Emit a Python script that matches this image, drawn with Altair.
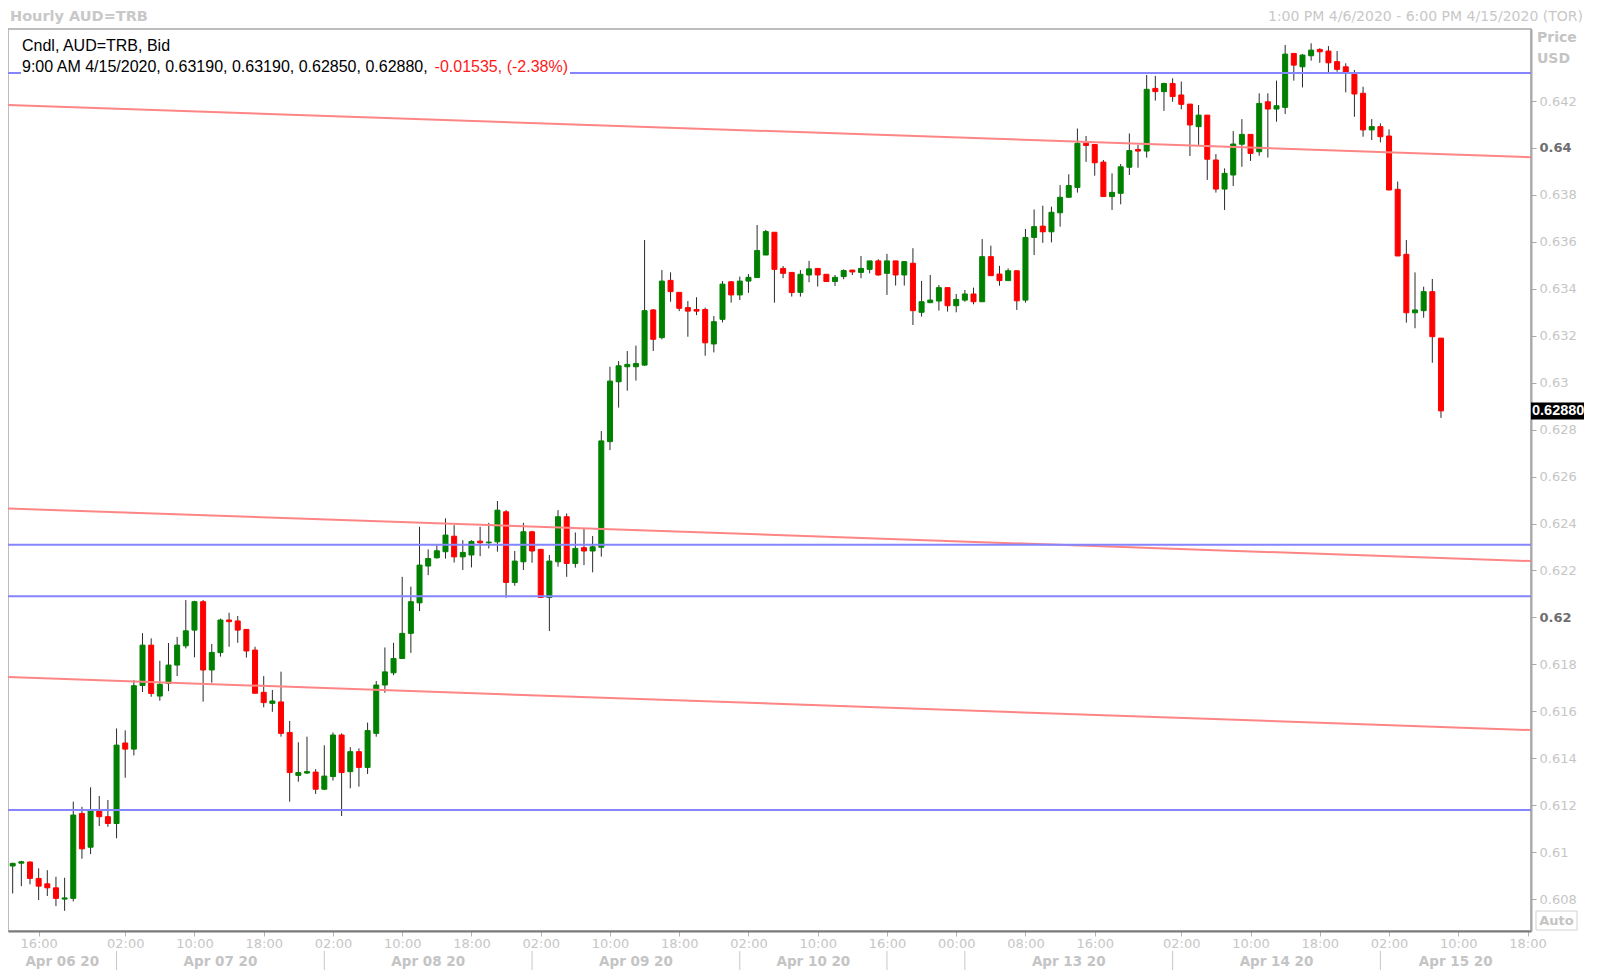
import altair as alt
import pandas as pd

# ---------------- data ----------------
opens = [0.60941, 0.60953, 0.60958, 0.60888, 0.60865, 0.60848, 0.60800, 0.60803, 0.61165, 0.61021,
         0.61176, 0.61151, 0.61122, 0.61465, 0.61439, 0.61710, 0.61882, 0.61665, 0.61719, 0.61797,
         0.61879, 0.61946, 0.62067, 0.61776, 0.61850, 0.61989, 0.61985, 0.61949, 0.61861, 0.61681,
         0.61634, 0.61640, 0.61510, 0.61327, 0.61337, 0.61341, 0.61268, 0.61322, 0.61499, 0.61343,
         0.61428, 0.61361, 0.61506, 0.61712, 0.61764, 0.61825, 0.61932, 0.62062, 0.62219, 0.62254,
         0.62280, 0.62346, 0.62258, 0.62266, 0.62325, 0.62318, 0.62322, 0.62450, 0.62149, 0.62237,
         0.62365, 0.62290, 0.62085, 0.62237, 0.62429, 0.62230, 0.62297, 0.62283, 0.62299, 0.62749,
         0.63004, 0.63068, 0.63068, 0.63075, 0.63310, 0.63192, 0.63436, 0.63385, 0.63320, 0.63312,
         0.63312, 0.63165, 0.63270, 0.63430, 0.63374, 0.63433, 0.63448, 0.63544, 0.63641, 0.63487,
         0.63470, 0.63385, 0.63459, 0.63487, 0.63462, 0.63431, 0.63452, 0.63480, 0.63470, 0.63483,
         0.63519, 0.63466, 0.63519, 0.63459, 0.63509, 0.63300, 0.63341, 0.63348, 0.63405, 0.63328,
         0.63352, 0.63378, 0.63345, 0.63537, 0.63463, 0.63435, 0.63477, 0.63352, 0.63619, 0.63667,
         0.63643, 0.63724, 0.63790, 0.63832, 0.64020, 0.64015, 0.63940, 0.63793, 0.63807, 0.63918,
         0.63994, 0.63987, 0.64254, 0.64240, 0.64275, 0.64226, 0.64187, 0.64091, 0.64140, 0.63949,
         0.63825, 0.63885, 0.64016, 0.64058, 0.63984, 0.64197, 0.64166, 0.64173, 0.64403, 0.64346,
         0.64393, 0.64420, 0.64413, 0.64368, 0.64346, 0.64314, 0.64233, 0.64077, 0.64091, 0.64051,
         0.63824, 0.63547, 0.63298, 0.63307, 0.63388, 0.63190]

highs = [0.60955, 0.60963, 0.60960, 0.60931, 0.60923, 0.60895, 0.60891, 0.61215, 0.61193, 0.61276,
         0.61239, 0.61222, 0.61527, 0.61519, 0.61733, 0.61933, 0.61911, 0.61815, 0.61891, 0.61917,
         0.62074, 0.62071, 0.62074, 0.61887, 0.61995, 0.62020, 0.62006, 0.61950, 0.61875, 0.61750,
         0.61691, 0.61769, 0.61559, 0.61468, 0.61492, 0.61354, 0.61455, 0.61510, 0.61506, 0.61447,
         0.61442, 0.61552, 0.61729, 0.61872, 0.61892, 0.62173, 0.62131, 0.62386, 0.62290, 0.62308,
         0.62422, 0.62393, 0.62329, 0.62329, 0.62386, 0.62403, 0.62496, 0.62457, 0.62283, 0.62403,
         0.62369, 0.62292, 0.62266, 0.62457, 0.62443, 0.62362, 0.62377, 0.62347, 0.62794, 0.63068,
         0.63092, 0.63135, 0.63158, 0.63608, 0.63314, 0.63480, 0.63470, 0.63385, 0.63348, 0.63364,
         0.63320, 0.63284, 0.63433, 0.63433, 0.63452, 0.63463, 0.63672, 0.63651, 0.63641, 0.63497,
         0.63470, 0.63480, 0.63519, 0.63487, 0.63462, 0.63459, 0.63483, 0.63480, 0.63540, 0.63519,
         0.63526, 0.63549, 0.63519, 0.63516, 0.63573, 0.63434, 0.63459, 0.63416, 0.63405, 0.63378,
         0.63395, 0.63405, 0.63612, 0.63584, 0.63498, 0.63487, 0.63477, 0.63655, 0.63738, 0.63754,
         0.63750, 0.63842, 0.63888, 0.64083, 0.64051, 0.64015, 0.63949, 0.63892, 0.63932, 0.64062,
         0.64013, 0.64311, 0.64307, 0.64278, 0.64297, 0.64283, 0.64187, 0.64183, 0.64140, 0.63974,
         0.63913, 0.64072, 0.64123, 0.64058, 0.64233, 0.64233, 0.64287, 0.64439, 0.64403, 0.64400,
         0.64446, 0.64425, 0.64434, 0.64413, 0.64361, 0.64332, 0.64261, 0.64123, 0.64105, 0.64079,
         0.63857, 0.63608, 0.63470, 0.63409, 0.63442, 0.63190]

lows = [0.60824, 0.60855, 0.60863, 0.60796, 0.60813, 0.60770, 0.60750, 0.60790, 0.60972, 0.60992,
        0.61111, 0.61108, 0.61059, 0.61317, 0.61412, 0.61682, 0.61662, 0.61645, 0.61686, 0.61750,
        0.61868, 0.61830, 0.61641, 0.61722, 0.61833, 0.61875, 0.61892, 0.61829, 0.61677, 0.61617,
        0.61598, 0.61492, 0.61215, 0.61300, 0.61333, 0.61248, 0.61265, 0.61305, 0.61154, 0.61272,
        0.61279, 0.61333, 0.61492, 0.61679, 0.61754, 0.61825, 0.61849, 0.62027, 0.62180, 0.62251,
        0.62251, 0.62234, 0.62202, 0.62213, 0.62261, 0.62294, 0.62280, 0.62084, 0.62135, 0.62202,
        0.62233, 0.62083, 0.61942, 0.62216, 0.62173, 0.62212, 0.62223, 0.62192, 0.62259, 0.62713,
        0.62894, 0.62966, 0.63009, 0.63072, 0.63135, 0.63185, 0.63345, 0.63305, 0.63196, 0.63288,
        0.63115, 0.63129, 0.63257, 0.63341, 0.63352, 0.63383, 0.63448, 0.63544, 0.63341, 0.63445,
        0.63367, 0.63367, 0.63428, 0.63410, 0.63431, 0.63412, 0.63441, 0.63459, 0.63445, 0.63466,
        0.63456, 0.63374, 0.63414, 0.63414, 0.63246, 0.63282, 0.63341, 0.63307, 0.63303, 0.63300,
        0.63345, 0.63334, 0.63345, 0.63456, 0.63413, 0.63435, 0.63310, 0.63341, 0.63544, 0.63596,
        0.63598, 0.63665, 0.63790, 0.63810, 0.63941, 0.63882, 0.63793, 0.63736, 0.63760, 0.63885,
        0.63916, 0.63959, 0.64202, 0.64158, 0.64197, 0.64165, 0.63966, 0.64013, 0.63864, 0.63810,
        0.63736, 0.63838, 0.63920, 0.63945, 0.63967, 0.63959, 0.64112, 0.64145, 0.64287, 0.64258,
        0.64372, 0.64363, 0.64321, 0.64325, 0.64237, 0.64133, 0.64048, 0.64034, 0.64024, 0.63821,
        0.63540, 0.63256, 0.63232, 0.63277, 0.63085, 0.62850]

closes = [0.60952, 0.60959, 0.60888, 0.60855, 0.60848, 0.60803, 0.60805, 0.61158, 0.61014, 0.61179,
          0.61151, 0.61122, 0.61456, 0.61439, 0.61709, 0.61882, 0.61676, 0.61715, 0.61797, 0.61882,
          0.61943, 0.62067, 0.61776, 0.61851, 0.61989, 0.61982, 0.61946, 0.61857, 0.61677, 0.61637,
          0.61644, 0.61506, 0.61339, 0.61339, 0.61343, 0.61268, 0.61324, 0.61499, 0.61339, 0.61428,
          0.61361, 0.61518, 0.61712, 0.61768, 0.61825, 0.61932, 0.62067, 0.62223, 0.62251, 0.62284,
          0.62351, 0.62258, 0.62277, 0.62324, 0.62318, 0.62321, 0.62457, 0.62149, 0.62240, 0.62365,
          0.62283, 0.62085, 0.62240, 0.62429, 0.62230, 0.62294, 0.62283, 0.62301, 0.62752, 0.63007,
          0.63072, 0.63078, 0.63082, 0.63307, 0.63185, 0.63433, 0.63388, 0.63317, 0.63305, 0.63305,
          0.63170, 0.63260, 0.63420, 0.63374, 0.63433, 0.63449, 0.63563, 0.63644, 0.63483, 0.63466,
          0.63384, 0.63462, 0.63485, 0.63459, 0.63431, 0.63449, 0.63478, 0.63472, 0.63487, 0.63519,
          0.63459, 0.63519, 0.63459, 0.63516, 0.63307, 0.63345, 0.63352, 0.63405, 0.63328, 0.63355,
          0.63378, 0.63345, 0.63537, 0.63456, 0.63435, 0.63477, 0.63349, 0.63619, 0.63665, 0.63643,
          0.63726, 0.63790, 0.63840, 0.64020, 0.64011, 0.63937, 0.63793, 0.63811, 0.63920, 0.63989,
          0.63987, 0.64250, 0.64240, 0.64275, 0.64219, 0.64186, 0.64098, 0.64140, 0.63952, 0.63825,
          0.63892, 0.64017, 0.64058, 0.63977, 0.64190, 0.64166, 0.64180, 0.64400, 0.64353, 0.64396,
          0.64417, 0.64410, 0.64363, 0.64335, 0.64322, 0.64230, 0.64077, 0.64091, 0.64048, 0.63821,
          0.63540, 0.63298, 0.63310, 0.63388, 0.63196, 0.62880]

# horizontal support / resistance levels (blue)
blue_levels = [0.6432, 0.6231, 0.6209, 0.6118]
# sloping channel lines (red): value at left edge, value at right edge
red_left = [0.64183, 0.62464, 0.61746]
red_right = [0.63961, 0.62240, 0.61520]

# x axis (bar index) ticks and labels
tick_idx = [3, 13, 21, 29, 37, 45, 53, 61, 69, 77, 85, 93, 101, 109, 117, 125, 135, 143, 151, 159, 167, 175]
tick_lab = ["16:00", "02:00", "10:00", "18:00", "02:00", "10:00", "18:00", "02:00", "10:00", "18:00",
            "02:00", "10:00", "16:00", "00:00", "08:00", "16:00", "02:00", "10:00", "18:00", "02:00",
            "10:00", "18:00"]
day_seps = [12, 36, 60, 84, 101, 110, 134, 158]
day_labels = ["Apr 06 20", "Apr 07 20", "Apr 08 20", "Apr 09 20", "Apr 10 20", "",
              "Apr 13 20", "Apr 14 20", "Apr 15 20"]
price_ticks = [0.608, 0.61, 0.612, 0.614, 0.616, 0.618, 0.62, 0.622, 0.624, 0.626,
               0.628, 0.63, 0.632, 0.634, 0.636, 0.638, 0.64, 0.642]

header1 = "Cndl, AUD=TRB, Bid"
header2 = "9:00 AM 4/15/2020, 0.63190, 0.63190, 0.62850, 0.62880,"
header2_chg = "-0.01535, (-2.38%)"
title_left = "Hourly AUD=TRB"
title_right = "1:00 PM 4/6/2020 - 6:00 PM 4/15/2020 (TOR)"

# ---------------- layout ----------------
W, H = 1523, 902
X_DOM = [-0.54, 175.4]
Y_DOM = [0.60664, 0.64507]

n = len(opens)
df = pd.DataFrame({
    "i": list(range(n)),
    "open": opens,
    "high": [max(h, o, c) for h, o, c in zip(highs, opens, closes)],
    "low": [min(l, o, c) for l, o, c in zip(lows, opens, closes)],
    "close": closes,
})
df["dir"] = ["up" if c >= o else "down" for o, c in zip(opens, closes)]

xs = alt.Scale(domain=X_DOM, nice=False, zero=False, padding=0)
ys = alt.Scale(domain=Y_DOM, nice=False, zero=False, padding=0)

label_expr = ("[" + ",".join("'%s'" % s for s in tick_lab) + "][indexof(["
              + ",".join(str(v) for v in tick_idx) + "], datum.value)]")

bold_test = "abs(datum.value - 0.64) < 0.00001 || abs(datum.value - 0.62) < 0.00001"

x_axis = alt.Axis(values=tick_idx, labelExpr=label_expr, orient="bottom", title=None, grid=False,
                  tickSize=5, tickColor="#b4b4b4", domainColor="#7a7a7a", domainWidth=2,
                  labelFont="DejaVu Sans", labelFontSize=13, labelColor="#c6c6c6",
                  labelPadding=1, labelFlush=False, labelOverlap=False)
y_axis = alt.Axis(values=price_ticks, format=".3~f", orient="right", title=None, grid=False,
                  tickSize=5, tickColor="#a8a8a8", domainColor="#a8a8a8", domainWidth=2,
                  labelFont="DejaVu Sans", labelFontSize=13, labelPadding=3,
                  labelColor={"condition": {"test": bold_test, "value": "#6e6e6e"}, "value": "#c6c6c6"},
                  labelFontWeight={"condition": {"test": bold_test, "value": "bold"}, "value": "normal"})


def XQ(field):
    return alt.X(field, type="quantitative", scale=xs, axis=x_axis)


def YQ(field):
    return alt.Y(field, type="quantitative", scale=ys, axis=y_axis)


dir_scale = alt.Scale(domain=["up", "down"], range=["#008000", "#ff0000"])

base = alt.Chart(df)
wicks = base.mark_rule(color="#2a2a2a", strokeWidth=1).encode(
    x=XQ("i"), y=YQ("low"), y2="high:Q",
)
bodies = base.mark_bar(width=5, strokeWidth=1).encode(
    x=XQ("i"), y=YQ("open"), y2="close:Q",
    color=alt.Color("dir:N", scale=dir_scale, legend=None),
    stroke=alt.Stroke("dir:N", scale=dir_scale, legend=None),
)

red_df = pd.DataFrame({"x1": [X_DOM[0]] * len(red_left), "x2": [X_DOM[1]] * len(red_left),
                       "y1": red_left, "y2": red_right})
red_lines = alt.Chart(red_df).mark_rule(color="#ff8585", strokeWidth=2).encode(
    x=XQ("x1"), x2="x2:Q", y=YQ("y1"), y2="y2:Q",
)

blue_df = pd.DataFrame({"level": blue_levels})
blue_lines = alt.Chart(blue_df).mark_rule(color="#8585ff", strokeWidth=2).encode(
    y=YQ("level"),
)

one = pd.DataFrame({"a": [0]})

hdr_box = alt.Chart(one).mark_rect(color="white").encode(
    x=alt.value(13), x2=alt.value(562), y=alt.value(4), y2=alt.value(49))

txt_df = pd.DataFrame({"t1": [header1], "t2": [header2], "t3": [header2_chg],
                       "tl": [title_left], "tr": [title_right]})
HDR_FONT = "Liberation Sans"
hdr_size = 16
hdr1 = alt.Chart(txt_df).mark_text(align="left", baseline="middle", font=HDR_FONT,
                                   fontSize=hdr_size, color="#000000").encode(
    x=alt.value(14), y=alt.value(17), text="t1:N")
hdr2 = alt.Chart(txt_df).mark_text(align="left", baseline="middle", font=HDR_FONT,
                                   fontSize=hdr_size, color="#000000").encode(
    x=alt.value(14), y=alt.value(38), text="t2:N")
hdr3 = alt.Chart(txt_df).mark_text(align="right", baseline="middle", font=HDR_FONT,
                                   fontSize=hdr_size, color="#ff1a1a").encode(
    x=alt.value(560), y=alt.value(38), text="t3:N")
ttl_l = alt.Chart(txt_df).mark_text(align="left", baseline="middle", font="DejaVu Sans",
                                    fontSize=14.5, fontWeight="bold", color="#c8c8c8").encode(
    x=alt.value(2), y=alt.value(-12.5), text="tl:N")
ttl_r = alt.Chart(txt_df).mark_text(align="right", baseline="middle", font="DejaVu Sans",
                                    fontSize=14, color="#c8c8c8").encode(
    x=alt.value(1575), y=alt.value(-12.5), text="tr:N")

unit_df = pd.DataFrame({"u": ["Price", "USD"]})
unit_p = alt.Chart(unit_df.iloc[[0]]).mark_text(
    align="left", baseline="middle", font="DejaVu Sans", fontSize=14, fontWeight="bold",
    color="#c4c4c4").encode(x=alt.value(1529), y=alt.value(9), text="u:N")
unit_u = alt.Chart(unit_df.iloc[[1]]).mark_text(
    align="left", baseline="middle", font="DejaVu Sans", fontSize=14, fontWeight="bold",
    color="#c4c4c4").encode(x=alt.value(1529), y=alt.value(30), text="u:N")

last_df = pd.DataFrame({"p": [closes[-1]], "lab": ["%.5f" % closes[-1]]})
last_box = alt.Chart(last_df).mark_rule(color="#000000", strokeWidth=17).encode(
    x=alt.value(1523), x2=alt.value(1576), y=YQ("p"))
last_txt = alt.Chart(last_df).mark_text(align="left", baseline="middle", font="Liberation Sans",
                                        fontSize=14.5, fontWeight="bold", color="#ffffff").encode(
    x=alt.value(1524), y=YQ("p"), text="lab:N")

auto_box = alt.Chart(one).mark_rect(fill="white", stroke="#d2d2d2", strokeWidth=1).encode(
    x=alt.value(1528), x2=alt.value(1569), y=alt.value(882), y2=alt.value(901))
auto_txt = alt.Chart(pd.DataFrame({"t": ["Auto"]})).mark_text(
    align="center", baseline="middle", font="DejaVu Sans", fontSize=13, fontWeight="bold",
    color="#c4c4c4").encode(x=alt.value(1548.5), y=alt.value(891.5), text="t:N")

sep_df = pd.DataFrame({"s": day_seps})
seps = alt.Chart(sep_df).mark_rule(color="#c8c8c8", strokeWidth=1).encode(
    x=XQ("s"), y=alt.value(922), y2=alt.value(941))

bounds = [X_DOM[0]] + day_seps + [X_DOM[1]]
mids = [(a + b) / 2 for a, b in zip(bounds[:-1], bounds[1:])]
day_df = pd.DataFrame({"m": mids, "d": day_labels})
days = alt.Chart(day_df).mark_text(baseline="middle", align="center", font="DejaVu Sans",
                                   fontSize=13.5, fontWeight="bold", color="#c4c4c4").encode(
    x=XQ("m"), y=alt.value(933), text="d:N")

chart = alt.layer(
    wicks, bodies, red_lines, blue_lines, hdr_box, hdr1, hdr2, hdr3, ttl_l, ttl_r,
    unit_p, unit_u, last_box, last_txt, auto_box, auto_txt, seps, days,
).properties(
    width=W, height=H,
    autosize=alt.AutoSizeParams(type="none"),
    padding={"left": 0, "top": 21, "right": 53, "bottom": 39},
    background="white",
).configure_view(stroke="#a8a8a8", strokeWidth=1.5)

chart.save("out.html", embed_options={"renderer": "svg", "actions": False})
